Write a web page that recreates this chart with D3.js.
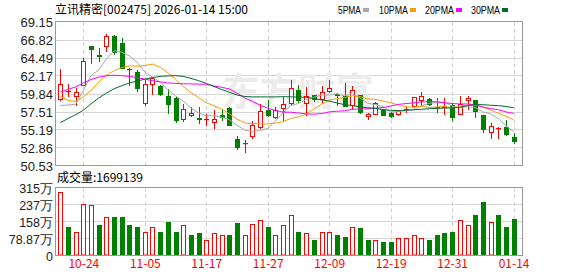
<!DOCTYPE html>
<html><head><meta charset="utf-8">
<script src="https://cdn.jsdelivr.net/npm/d3@7"></script>
<style>body{margin:0;background:#fff}svg{display:block}</style>
</head><body>
<svg id="c" width="578" height="276"></svg>
<script>
const title = "立讯精密[002475] 2026-01-14 15:00";
const volTitle = "成交量:1699139";
const dates = ["2025-10-21","2025-10-22","2025-10-23","2025-10-24","2025-10-27","2025-10-28","2025-10-29","2025-10-30","2025-10-31",
"2025-11-03","2025-11-04","2025-11-05","2025-11-06","2025-11-07","2025-11-10","2025-11-11","2025-11-12","2025-11-13","2025-11-14","2025-11-17","2025-11-18","2025-11-19","2025-11-20","2025-11-21","2025-11-24","2025-11-25","2025-11-26","2025-11-27","2025-11-28",
"2025-12-01","2025-12-02","2025-12-03","2025-12-04","2025-12-05","2025-12-08","2025-12-09","2025-12-10","2025-12-11","2025-12-12","2025-12-15","2025-12-16","2025-12-17","2025-12-18","2025-12-19","2025-12-22","2025-12-23","2025-12-24","2025-12-25","2025-12-26","2025-12-29","2025-12-30","2025-12-31",
"2026-01-05","2026-01-06","2026-01-07","2026-01-08","2026-01-09","2026-01-12","2026-01-13","2026-01-14"];
const open  = [59.09,60.05,59.50,61.00,65.97,64.80,66.01,67.27,66.32,62.95,62.56,58.61,61.13,60.82,59.52,59.30,56.50,57.10,56.65,56.45,56.15,57.02,58.02,54.00,53.30,54.29,55.50,57.67,56.80,57.97,58.67,60.30,58.67,59.61,59.18,60.17,59.80,59.48,58.32,59.61,56.89,57.24,57.76,57.32,57.24,57.70,58.19,59.05,59.18,58.05,57.95,58.41,57.24,59.05,58.96,57.02,54.85,55.33,55.55,54.25];
const high  = [63.07,61.10,60.50,64.37,66.00,65.69,67.55,67.40,66.97,63.10,62.86,61.56,61.99,60.90,60.48,59.50,58.45,58.03,58.12,57.24,57.76,57.89,58.10,54.30,53.78,56.28,58.45,58.97,58.10,59.39,61.56,61.00,60.69,59.65,60.78,61.56,59.85,61.26,60.78,59.70,57.30,58.80,57.85,57.40,57.70,58.10,59.45,60.04,59.25,59.26,59.31,58.67,59.48,59.52,59.05,57.10,56.08,55.50,56.46,54.72];
const low   = [58.95,59.50,58.34,60.90,63.73,64.00,65.39,64.95,63.10,60.91,60.17,58.40,59.83,59.70,57.37,56.15,56.30,56.99,56.08,55.72,55.42,56.37,55.75,52.70,52.26,54.12,55.42,56.93,56.70,56.37,58.41,58.75,57.10,58.90,58.75,60.04,58.30,58.20,57.89,57.37,56.60,57.15,57.00,56.85,57.00,57.50,58.10,58.32,58.30,57.47,57.24,56.37,57.15,57.89,56.80,54.85,54.14,54.07,54.50,53.40];
const close = [61.13,60.10,60.00,64.02,65.55,64.70,67.31,65.15,63.15,63.05,60.56,61.13,61.78,59.83,58.45,56.46,57.80,57.37,56.59,56.50,56.59,56.80,55.81,52.91,53.40,55.72,57.58,57.02,57.76,58.54,60.50,59.00,59.48,59.18,60.04,60.61,59.70,58.23,60.35,57.45,57.24,58.67,57.11,56.89,57.60,57.85,59.39,59.48,58.54,58.15,58.05,56.80,58.54,59.20,57.54,55.20,55.59,55.40,54.55,53.65];
const volume = [2969000,1345000,1113000,2397000,2366000,1438000,1809000,1809000,1763000,1438000,1315000,1113000,1345000,1083000,1577000,1113000,1392000,928000,1036000,742000,1067000,928000,974000,1531000,974000,1469000,1624000,1315000,974000,1392000,1856000,1083000,1052000,696000,1113000,1113000,974000,881000,1345000,1268000,742000,742000,619000,619000,789000,789000,928000,789000,742000,928000,1036000,1083000,1624000,1438000,1902000,2459000,1577000,1902000,1345000,1699139];
const volUp = [1,0,1,1,1,0,1,0,0,0,0,1,1,0,0,0,1,0,0,1,1,1,0,0,1,1,1,0,1,1,1,0,1,0,1,1,0,0,1,0,0,1,0,0,1,1,1,1,0,0,0,0,1,1,0,0,1,0,0,0];
const ma5  = [58.30,58.35,58.45,60.25,62.16,62.88,64.31,65.36,65.19,64.69,63.87,62.63,61.95,61.27,60.35,59.53,58.87,57.98,57.33,56.95,56.97,56.77,56.46,55.73,55.10,54.92,55.08,55.32,56.29,57.32,58.28,58.56,59.05,59.34,59.64,59.66,59.80,59.55,59.78,59.27,58.59,58.39,58.16,57.47,57.50,57.62,57.77,58.24,58.57,58.68,58.72,58.20,58.02,58.15,58.03,57.46,57.21,56.59,55.66,54.88];
const ma10 = [59.50,58.95,58.80,59.40,60.26,61.30,62.20,62.80,63.20,63.42,63.36,63.46,63.64,63.23,62.52,61.70,60.75,59.97,59.30,58.65,58.25,57.82,57.22,56.53,56.03,55.95,55.93,55.89,56.01,56.21,56.60,56.82,57.19,57.82,58.48,58.97,59.18,59.30,59.56,59.45,59.13,59.09,58.86,58.63,58.38,58.11,58.08,58.20,58.02,58.09,58.17,57.98,58.13,58.36,58.35,58.09,57.71,57.30,56.90,56.45];
const ma20 = [60.04,60.35,60.70,61.20,61.65,61.95,62.15,62.20,62.15,62.05,61.90,61.70,61.50,61.35,61.20,61.15,61.10,61.08,61.05,61.03,60.81,60.64,60.43,59.88,59.27,58.82,58.34,57.93,57.65,57.43,57.42,57.32,57.20,57.17,57.25,57.46,57.55,57.60,57.79,57.83,57.86,57.96,58.02,58.22,58.43,58.54,58.63,58.75,58.79,58.77,58.65,58.54,58.49,58.49,58.37,58.10,57.89,57.75,57.46,57.27];
const ma30 = [56.07,56.60,57.10,57.67,58.50,59.25,59.90,60.45,60.85,61.20,61.45,61.70,61.90,62.05,62.12,62.15,62.05,61.80,61.50,61.15,60.75,60.35,60.00,59.65,59.45,59.40,59.40,59.40,59.40,59.43,59.41,59.37,59.35,59.19,59.01,58.87,58.62,58.39,58.29,58.11,58.00,57.92,57.76,57.66,57.63,57.68,57.73,57.80,57.87,57.92,57.97,57.97,58.06,58.27,58.41,58.39,58.32,58.27,58.16,58.00];
const maNames = ["5PMA","10PMA","20PMA","30PMA"];
const maColors = ["#a8a8a8","#f5a000","#ff00ff","#006a30"];
const priceTicks = [69.15,66.82,64.49,62.17,59.84,57.51,55.19,52.86,50.53];
const volTicks = [3154800,2366100,1577400,788700,0];
const volTickLabels = ["315万","237万","158万","78.87万","0"];
const xTicks = ["2025-10-24","2025-11-05","2025-11-17","2025-11-27","2025-12-09","2025-12-19","2025-12-31","2026-01-14"];

const svg = d3.select("#c");
const L = 55.5, R = 522.5, PT = 21.5, PB = 165.5, VT = 187.5, VB = 255.5;
const RED = "#ff0000", GREEN = "#008000";
const x = d3.scalePoint().domain(dates).range([60.3, 513.6]);
const cx = d => Math.round(x(d)) + 0.5;
const y = d3.scaleLinear().domain([50.53, 69.15]).range([PB, PT]);
const yv = d3.scaleLinear().domain([0, 3154800]).range([VB, VT]);

// grid
const g = svg.append("g");
priceTicks.slice(1, -1).forEach(t => {
  const yy = Math.round(y(t)) + 0.5;
  g.append("line").attr("x1", L).attr("x2", R).attr("y1", yy).attr("y2", yy).attr("stroke", "#d6d6d6");
});
volTicks.slice(1, -1).forEach(t => {
  const yy = Math.round(yv(t) - 0.5) + 0.5;
  g.append("line").attr("x1", L).attr("x2", R).attr("y1", yy).attr("y2", yy).attr("stroke", "#d6d6d6");
});
xTicks.forEach(d => {
  [[PT, PB], [VT, VB]].forEach(([a, b]) =>
    g.append("line").attr("x1", cx(d)).attr("x2", cx(d)).attr("y1", a).attr("y2", b)
      .attr("stroke", "#cfcfcf").attr("stroke-dasharray", "4,3"));
});

// watermark
svg.append("text").attr("x", 222).attr("y", 105).attr("font-family", "Noto Sans CJK SC")
  .attr("font-size", 38).attr("font-weight", "bold").attr("fill", "#ececec").text("东方财富");

// candles
const cg = svg.append("g");
dates.forEach((d, i) => {
  const up = close[i] >= open[i];
  const col = up ? RED : GREEN;
  const X = cx(d);
  cg.append("line").attr("x1", X).attr("x2", X)
    .attr("y1", Math.round(y(high[i]))).attr("y2", Math.round(y(low[i])) + 1)
    .attr("stroke", col);
  const top = Math.round(y(Math.max(open[i], close[i])));
  const bot = Math.round(y(Math.min(open[i], close[i])));
  const h = Math.max(1, bot - top);
  if (up) {
    if (h <= 1) cg.append("rect").attr("x", X - 2.5).attr("y", top).attr("width", 5).attr("height", 1.2).attr("fill", col);
    else cg.append("rect").attr("x", X - 2).attr("y", top + 0.5).attr("width", 4).attr("height", h)
      .attr("fill", "#fff").attr("stroke", col);
  } else {
    cg.append("rect").attr("x", X - 2.5).attr("y", top).attr("width", 5).attr("height", h + 1).attr("fill", col);
  }
});

// moving averages
const mas = [ma5, ma10, ma20, ma30];
mas.forEach((m, k) => {
  svg.append("path").datum(m).attr("fill", "none").attr("stroke", maColors[k]).attr("stroke-width", 1)
    .attr("d", d3.line().x((v, i) => x(dates[i])).y(v => y(v)));
});

// volume bars
dates.forEach((d, i) => {
  const X = cx(d);
  const top = Math.round(yv(volume[i]));
  if (volUp[i]) svg.append("rect").attr("x", X - 2).attr("y", top + 0.5).attr("width", 4).attr("height", VB - 0.5 - top - 0.5)
    .attr("fill", "#fff").attr("stroke", RED);
  else svg.append("rect").attr("x", X - 2.5).attr("y", top).attr("width", 5).attr("height", VB - 0.5 - top).attr("fill", GREEN);
});

// frames
[[PT, PB], [VT, VB]].forEach(([a, b]) =>
  svg.append("rect").attr("x", L).attr("y", a).attr("width", R - L).attr("height", b - a)
    .attr("fill", "none").attr("stroke", "#999"));

// axes
const ax = svg.append("g").attr("transform", `translate(${L - 2.5},0)`)
  .call(d3.axisLeft(y).tickValues(priceTicks).tickFormat(d3.format(".2f")).tickSize(0).tickPadding(0));
const axv = svg.append("g").attr("transform", `translate(${L - 2.5},0)`)
  .call(d3.axisLeft(yv).tickValues(volTicks).tickFormat((d, i) => volTickLabels[i]).tickSize(0).tickPadding(0));
[ax, axv].forEach(a => {
  a.select(".domain").remove();
  a.selectAll("text").attr("font-family", "Liberation Sans, Arial, sans-serif").attr("font-size", 13)
    .attr("fill", "#222").attr("dy", "0.36em");
});
axv.selectAll("text").attr("font-size", 12.5);
const axx = svg.append("g").attr("transform", `translate(0,${VB})`)
  .call(d3.axisBottom(x).tickValues(xTicks).tickFormat(d => d.slice(5)).tickSize(0).tickPadding(0));
axx.select(".domain").remove();
axx.selectAll("text").attr("font-family", "Noto Sans CJK SC").attr("font-size", 12).attr("fill", RED)
  .attr("dy", "1.05em");

// titles
svg.append("text").attr("x", 55).attr("y", 14).attr("font-family", "Noto Sans CJK SC").attr("font-size", 12)
  .attr("fill", "#000").text(title);
svg.append("text").attr("x", 57).attr("y", 181.5).attr("font-family", "Noto Sans CJK SC").attr("font-size", 12)
  .attr("fill", "#000").text(volTitle);

// legend
const legX = [338, 379, 425, 471];
maNames.forEach((n, k) => {
  const t = svg.append("text").attr("x", legX[k]).attr("y", 14).attr("font-family", "Liberation Sans, Arial")
    .attr("font-size", 11).attr("fill", "#000").text(n);
  const w = n.length * 6;
  t.attr("textLength", w - 1).attr("lengthAdjust", "spacingAndGlyphs");
  svg.append("rect").attr("x", legX[k] + w + 1).attr("y", 8).attr("width", 6).attr("height", 4).attr("fill", maColors[k]);
});
</script>
</body></html>
